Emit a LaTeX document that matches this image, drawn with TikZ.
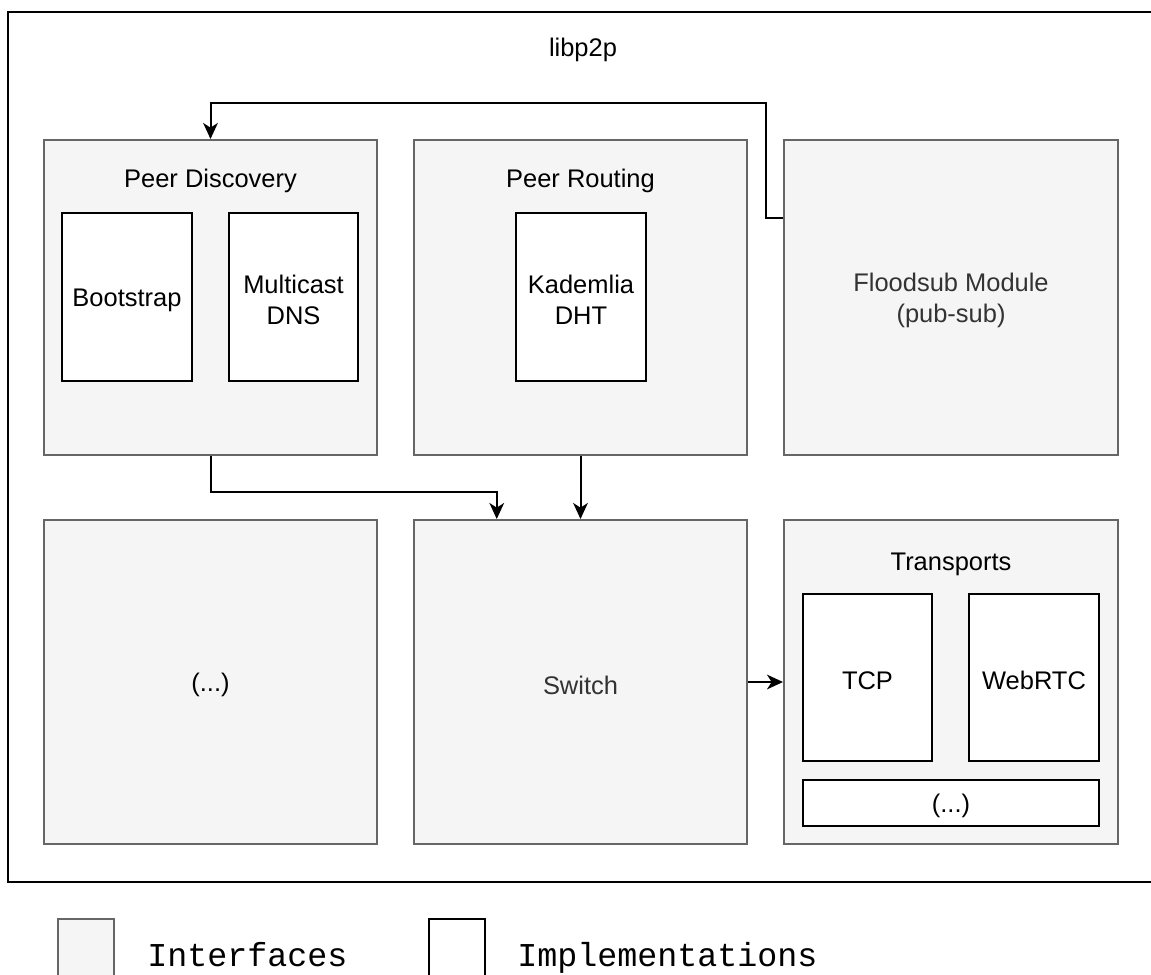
\documentclass[tikz,border=0pt]{standalone}
\usepackage{fontspec}
\setmainfont{Liberation Sans}
\setmonofont{Liberation Mono}
\usetikzlibrary{arrows.meta,calc}
\definecolor{ifill}{HTML}{F5F5F5}
\definecolor{istroke}{HTML}{666666}
\definecolor{itext}{HTML}{333333}
\tikzset{
  wh/.style 2 args={minimum width=#1*0.75pt, minimum height=#2*0.75pt},
  iface/.style={rectangle, draw=istroke, fill=ifill, line width=1.5pt, inner sep=0pt},
  impl/.style={rectangle, draw=black, fill=white, line width=1.5pt, inner sep=0pt},
  lbl/.style={font=\fontsize{19.1}{22.8}\selectfont, inner sep=0pt, align=center},
  tx/.style={label={[lbl, yshift=-2.2pt]center:#1}},
  txg/.style={label={[lbl, text=itext, yshift=-2.2pt]center:#1}},
  arr/.style={draw=black, line width=1.5pt, -{Stealth[length=12pt, width=11pt, inset=3.5pt]}},
  legtext/.style={font=\ttfamily\fontsize{25}{30}\selectfont, inner sep=0pt, anchor=base west}
}
\begin{document}
\begin{tikzpicture}[x=0.75pt,y=-0.75pt]
\useasboundingbox (0,0) rectangle (1151,974);
\clip (0,0) rectangle (1151,974);
% outer frame
\node[rectangle, draw=black, line width=1.5pt, inner sep=0pt, wh={1160}{870}, anchor=north west] (frame) at (7,11) {};
\node[lbl, anchor=base] (title) at (583,57) {libp2p};

% interface boxes
\node[iface, wh={333}{315}] (pd) at (210.5,297.5) {};
\node[iface, wh={333}{315}] (pr) at (580.5,297.5) {};
\node[iface, wh={334}{315}, txg={Floodsub Module\\(pub-sub)}] (fs) at (951,297.5) {};
\node[iface, wh={333}{324}, tx={(...)}] (etc) at (210.5,682) {};
\node[iface, wh={333}{324}, txg={Switch}] (sw) at (580.5,682) {};
\node[iface, wh={334}{324}] (tr) at (951,682) {};

% titles
\node[lbl, anchor=base] (pdl) at (210.5,187) {Peer Discovery};
\node[lbl, anchor=base] (prl) at (580.5,187) {Peer Routing};
\node[lbl, anchor=base] (trl) at (951,570) {Transports};

% implementation boxes
\node[impl, wh={130}{168}, tx={Bootstrap}] (boot) at (127,297) {};
\node[impl, wh={129}{168}, tx={Multicast\\DNS}] (mdns) at (293.5,297) {};
\node[impl, wh={130}{168}, tx={Kademlia\\DHT}] (kad) at (581,297) {};
\node[impl, wh={129}{167}, tx={TCP}] (tcp) at (867.5,677.5) {};
\node[impl, wh={130}{167}, tx={WebRTC}] (webrtc) at (1034,677.5) {};
\node[impl, wh={296}{46}, tx={(...)}] (tetc) at (951,803) {};

% connectors
\coordinate (c1) at (766,103);
\coordinate (c2) at (210.5,492);
\draw[arr] ($(fs.north west)!0.25!(fs.south west)$) -| (c1) -| (pd.north);
\draw[arr] (pd.south) -- (c2) -| ($(sw.north west)!0.25!(sw.north east)$);
\draw[arr] (pr.south) -- (sw.north);
\draw[arr] (sw.east) -- (tr.west);

% legend
\node[iface, wh={56}{58}, anchor=north west] (legi) at (57,918) {};
\node[legtext] (legit) at (147,966) {Interfaces};
\node[impl, wh={56}{58}, anchor=north west] (legm) at (428,918) {};
\node[legtext] (legmt) at (517,966) {Implementations};
\end{tikzpicture}
\end{document}
